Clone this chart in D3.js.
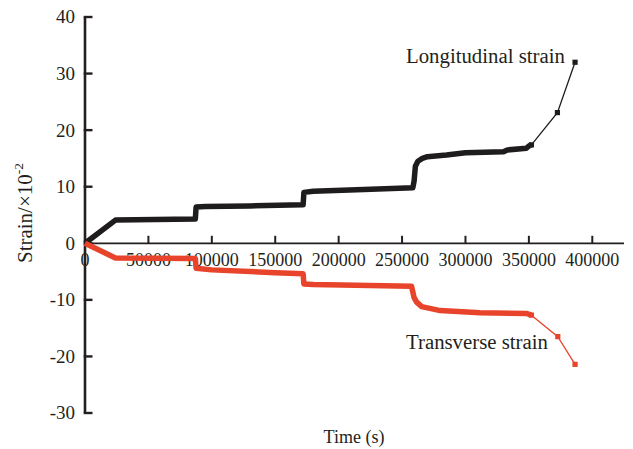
<!DOCTYPE html>
<html>
<head>
<meta charset="utf-8">
<script src="https://cdn.jsdelivr.net/npm/d3@7"></script>
<style>
  html, body { margin: 0; padding: 0; background: #fff; }
  svg { display: block; }
  text { font-family: "Liberation Serif", "Times New Roman", serif; fill: #231f20; }
</style>
</head>
<body>
<svg id="chart" width="633" height="449"></svg>
<script>
// Creep test readings: time (s) and strain (×10^-2)
const longitudinalTime   = [0, 24000, 87000, 87600, 95000, 130000, 172000, 172600, 180000, 220000, 258500, 259500, 260500, 262500, 266000, 270000, 285000, 300000, 330000, 333000, 348000, 350000, 352000, 372500, 386400];
const longitudinalStrain = [0, 4.1, 4.3, 6.4, 6.5, 6.6, 6.8, 9.0, 9.2, 9.5, 9.8, 11.0, 13.6, 14.5, 15.0, 15.3, 15.6, 16.0, 16.2, 16.5, 16.8, 17.2, 17.4, 23.1, 32.0];

const transverseTime   = [0, 24000, 87000, 87600, 100000, 150000, 172000, 172600, 180000, 257500, 259500, 261500, 265500, 280000, 311500, 348000, 352000, 372800, 386400];
const transverseStrain = [0, -2.6, -2.7, -4.4, -4.7, -5.2, -5.4, -7.2, -7.3, -7.6, -9.6, -10.4, -11.2, -11.9, -12.3, -12.4, -12.7, -16.5, -21.4];

const xTicks = [0, 50000, 100000, 150000, 200000, 250000, 300000, 350000, 400000];
const yTicks = [40, 30, 20, 10, 0, -10, -20, -30];

const seriesNames = ["Longitudinal strain", "Transverse strain"];
const seriesColors = ["#1f1c1d", "#e8432b"];

// The last two readings of each series are sparse; earlier ones form a dense trace.
const sparseCount = 2;

const svg = d3.select("#chart");

const x = d3.scaleLinear().domain([0, 425000]).range([85, 624]);
const y = d3.scaleLinear().domain([-30, 40]).range([413, 17]);

// x axis through y = 0, ticks pointing up
const xAxisG = svg.append("g").attr("transform", `translate(0,${y(0)})`);
xAxisG.append("line")
  .attr("x1", x(0)).attr("x2", x(425000))
  .attr("stroke", "#231f20").attr("stroke-width", 1.8);
xAxisG.selectAll("line.tick")
  .data(xTicks.filter(d => d !== 0))
  .join("line")
  .attr("class", "tick")
  .attr("x1", d => x(d)).attr("x2", d => x(d))
  .attr("y1", 0).attr("y2", -7.5)
  .attr("stroke", "#231f20").attr("stroke-width", 2);
xAxisG.selectAll("text.tl")
  .data(xTicks)
  .join("text")
  .attr("class", "tl")
  .attr("x", d => x(d))
  .attr("y", 23)
  .attr("text-anchor", "middle")
  .attr("font-size", 18)
  .text(d => d);

// y axis, ticks pointing right
const yAxisG = svg.append("g");
yAxisG.append("line")
  .attr("x1", x(0)).attr("x2", x(0))
  .attr("y1", y(40)).attr("y2", y(-30))
  .attr("stroke", "#231f20").attr("stroke-width", 2.6);
yAxisG.selectAll("line.tick")
  .data(yTicks)
  .join("line")
  .attr("class", "tick")
  .attr("x1", x(0) - 1.3).attr("x2", x(0) + 7.5)
  .attr("y1", d => y(d)).attr("y2", d => y(d))
  .attr("stroke", "#231f20").attr("stroke-width", 2.4);
yAxisG.selectAll("text.tl")
  .data(yTicks)
  .join("text")
  .attr("class", "tl")
  .attr("x", 75)
  .attr("y", d => y(d))
  .attr("dy", "0.34em")
  .attr("text-anchor", "end")
  .attr("font-size", 19)
  .text(d => d);

// axis titles
svg.append("text")
  .attr("x", 354).attr("y", 443)
  .attr("text-anchor", "middle")
  .attr("font-size", 18)
  .text("Time (s)");

const yTitle = svg.append("text")
  .attr("transform", "translate(32,213) rotate(-90)")
  .attr("text-anchor", "middle")
  .attr("font-size", 21);
yTitle.append("tspan").text("Strain/×10");
yTitle.append("tspan").attr("font-size", 13.5).attr("dy", -9).text("-2");

// series
const series = [
  { name: seriesNames[0], color: seriesColors[0],
    pts: longitudinalTime.map((t, i) => [t, longitudinalStrain[i]]) },
  { name: seriesNames[1], color: seriesColors[1],
    pts: transverseTime.map((t, i) => [t, transverseStrain[i]]) }
];

const line = d3.line().x(d => x(d[0])).y(d => y(d[1]));

series.forEach(s => {
  const split = s.pts.length - sparseCount;
  const dense = s.pts.slice(0, split);
  const sparse = s.pts.slice(split - 1);

  svg.append("path")
    .attr("d", line(sparse))
    .attr("fill", "none")
    .attr("stroke", s.color)
    .attr("stroke-width", 1.3);

  svg.append("path")
    .attr("d", line(dense))
    .attr("fill", "none")
    .attr("stroke", s.color)
    .attr("stroke-width", 5.5)
    .attr("stroke-linejoin", "round")
    .attr("stroke-linecap", "butt");

  svg.selectAll(null)
    .data(sparse)
    .join("rect")
    .attr("x", d => x(d[0]) - 2.6)
    .attr("y", d => y(d[1]) - 2.6)
    .attr("width", 5.2).attr("height", 5.2)
    .attr("fill", s.color);
});

// series labels
svg.append("text")
  .attr("x", 406).attr("y", 63)
  .attr("font-size", 20.8)
  .text(seriesNames[0]);
svg.append("text")
  .attr("x", 406).attr("y", 349)
  .attr("font-size", 20.8)
  .text(seriesNames[1]);
</script>
</body>
</html>
